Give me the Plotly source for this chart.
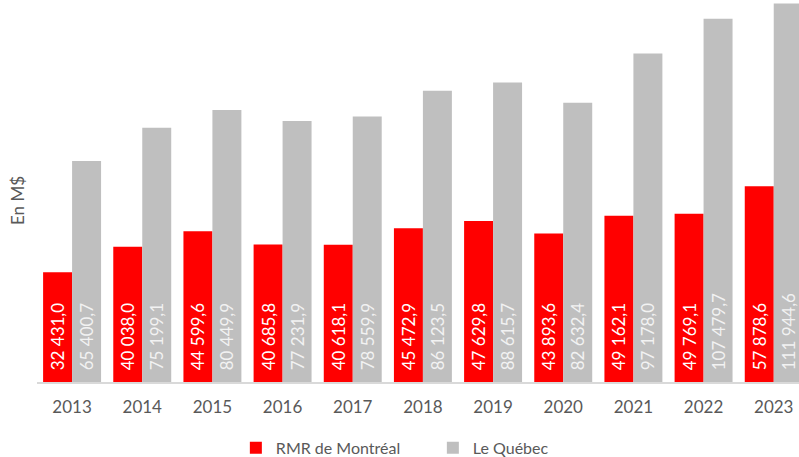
import plotly.graph_objects as go

years = ["2013", "2014", "2015", "2016", "2017", "2018", "2019", "2020", "2021", "2022", "2023"]
montreal = [32431.0, 40038.0, 44599.6, 40685.8, 40618.1, 45472.9, 47629.8, 43893.6, 49162.1, 49769.1, 57878.6]
quebec = [65400.7, 75199.1, 80449.9, 77231.9, 78559.9, 86123.5, 88615.7, 82632.4, 97178.0, 107479.7, 111944.6]

series_names = ["RMR de Montréal", "Le Québec"]
colors = ["#FF0000", "#BFBFBF"]
label_colors = ["#FFFFFF", "#F2F2F2"]

FONT = "Lato, 'Open Sans', sans-serif"
GREY_TXT = "#595959"


def fr(v):
    s = f"{v:,.1f}"
    s = s.replace(",", "\u00a0").replace(".", ",")
    return "\u00a0\u00a0" + s


fig = go.Figure()
for name, vals, col, lcol in zip(series_names, [montreal, quebec], colors, label_colors):
    fig.add_trace(go.Bar(
        x=years, y=vals, name=name,
        marker=dict(color=col, line=dict(width=0)),
        text=[fr(v) for v in vals],
        textposition="inside",
        insidetextanchor="start",
        textangle=-90,
        constraintext="none",
        textfont=dict(family=FONT, size=17, color=lcol),
        hoverinfo="x+y+name",
    ))

fig.update_layout(
    width=799, height=457,
    barmode="group", bargap=0.174, bargroupgap=0.0,
    margin=dict(l=37, r=0, t=0, b=75, autoexpand=False),
    plot_bgcolor="white", paper_bgcolor="white",
    font=dict(family=FONT, size=16, color=GREY_TXT),
    xaxis=dict(
        type="category", range=[-0.5, 10.36], automargin=False,
        showline=True, linecolor="#D9D9D9", linewidth=1.5,
        showgrid=False, ticks="", tickfont=dict(size=17, color=GREY_TXT),
        ticklabelstandoff=9,
    ),
    yaxis=dict(
        range=[0, 113000], showgrid=False, showticklabels=False, automargin=False,
        zeroline=False, showline=False, ticks="",
    ),
    legend=dict(
        orientation="h", x=0.5195, xanchor="center", y=-0.1725, yanchor="middle",
        font=dict(size=16, color=GREY_TXT), entrywidth=152, entrywidthmode="pixels",
        itemwidth=30, tracegroupgap=0,
    ),
    annotations=[dict(
        text="En M$", textangle=-90, xref="paper", yref="paper",
        x=-0.0249, y=0.474, xanchor="center", yanchor="middle",
        showarrow=False, font=dict(size=17, color=GREY_TXT),
    )],
)

fig.write_html(
    "out.html",
    config={"displayModeBar": False},
    post_script="document.body.style.margin='0';document.body.style.overflow='hidden';",
)
